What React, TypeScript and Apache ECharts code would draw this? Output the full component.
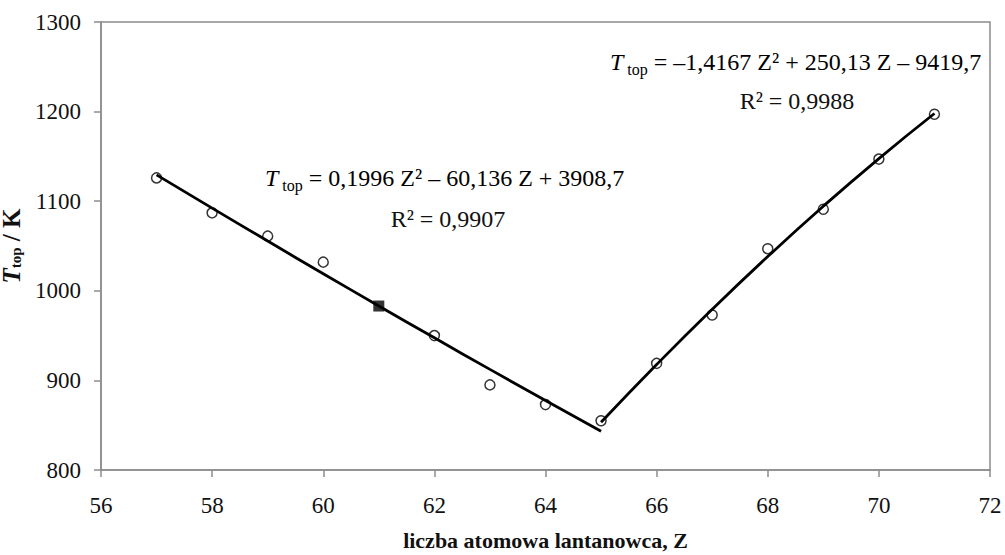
import React, { useEffect, useRef } from "react";
import * as echarts from "echarts";

// Measured points (hollow circles)
const zCircles = [57, 58, 59, 60, 62, 63, 64, 65, 66, 67, 68, 69, 70, 71];
const tCircles = [1126, 1087, 1061, 1032, 950, 895, 873, 855, 919, 973, 1047, 1091, 1147, 1197];
// Filled square point
const zSquare = [61];
const tSquare = [983];
// Trend line, low branch (Z 57–65)
const zFitLow = [57, 58, 59, 60, 61, 62, 63, 64, 65];
const tFitLow = [1129.4, 1092.3, 1055.5, 1019.1, 983.1, 947.5, 912.3, 877.6, 843.2];
// Trend line, high branch (Z 65–71)
const zFitHigh = [65, 66, 67, 68, 69, 70, 71];
const tFitHigh = [853.2, 917.7, 979.4, 1038.3, 1094.4, 1147.6, 1197.9];
// Tick settings
const xTicks = { min: 56, max: 72, interval: 2 };
const yTicks = { min: 800, max: 1300, interval: 100 };

const FONT = "Liberation Serif";

export default function App() {
  const ref = useRef<HTMLDivElement>(null);
  useEffect(() => {
    if (!ref.current) return;
    const chart = echarts.init(ref.current, null, { renderer: "svg" });
    const pair = (xs: number[], ys: number[]) => xs.map((x, i) => [x, ys[i]]);
    const axisGray = "#8c8c8c";
    const rich = {
      t: { fontFamily: FONT, fontSize: 24, fontStyle: "italic", color: "#111", lineHeight: 30 },
      s: { fontFamily: FONT, fontSize: 16, color: "#111", lineHeight: 16, verticalAlign: "bottom" },
      n: { fontFamily: FONT, fontSize: 24, color: "#111", lineHeight: 30 },
    };
    chart.setOption({
      animation: false,
      backgroundColor: "#ffffff",
      textStyle: { fontFamily: FONT },
      grid: {
        left: 101,
        right: 15,
        top: 22,
        bottom: 85,
        show: true,
        borderColor: axisGray,
        borderWidth: 1.5,
        containLabel: false,
        outerBoundsMode: "none",
      },
      xAxis: {
        type: "value",
        min: xTicks.min,
        max: xTicks.max,
        interval: xTicks.interval,
        splitLine: { show: false },
        axisLine: { show: true, lineStyle: { color: axisGray, width: 1.5 } },
        axisTick: { show: true, inside: false, length: 7, lineStyle: { color: axisGray, width: 1.5 } },
        axisLabel: { fontFamily: FONT, fontSize: 23, color: "#111", margin: 24, formatter: (v: number) => String(v) },
        name: "liczba atomowa lantanowca, Z",
        nameLocation: "middle",
        nameGap: 59,
        nameTextStyle: { fontFamily: FONT, fontSize: 22, fontWeight: "bold", color: "#111" },
      },
      yAxis: {
        type: "value",
        min: yTicks.min,
        max: yTicks.max,
        interval: yTicks.interval,
        splitLine: { show: false },
        axisLine: { show: true, lineStyle: { color: axisGray, width: 1.5 } },
        axisTick: { show: true, inside: false, length: 7, lineStyle: { color: axisGray, width: 1.5 } },
        axisLabel: { fontFamily: FONT, fontSize: 23, color: "#111", margin: 20, formatter: (v: number) => String(v) },
        name: "{t|T}{s|top}{n| / K}",
        nameLocation: "middle",
        nameGap: 61,
        nameRotate: 90,
        nameTextStyle: {
          rich: {
            t: { fontFamily: FONT, fontSize: 25, fontStyle: "italic", fontWeight: "bold", color: "#111", lineHeight: 24 },
            s: { fontFamily: FONT, fontSize: 15, fontWeight: "bold", color: "#111", lineHeight: 12, verticalAlign: "bottom" },
            n: { fontFamily: FONT, fontSize: 25, fontWeight: "bold", color: "#111", lineHeight: 24 },
          },
        },
      },
      graphic: [
        {
          type: "text",
          left: 265,
          top: 166,
          style: { text: "{t|T}{s| top}{n| = 0,1996 Z² – 60,136 Z + 3908,7}", rich },
        },
        {
          type: "text",
          x: 448,
          y: 219,
          style: { text: "R² = 0,9907", fontFamily: FONT, fontSize: 24, fill: "#111", align: "center", verticalAlign: "middle" },
        },
        {
          type: "text",
          left: 610,
          top: 50,
          style: { text: "{t|T}{s| top}{n| = –1,4167 Z² + 250,13 Z – 9419,7}", rich },
        },
        {
          type: "text",
          x: 797,
          y: 101,
          style: { text: "R² = 0,9988", fontFamily: FONT, fontSize: 24, fill: "#111", align: "center", verticalAlign: "middle" },
        },
      ],
      series: [
        {
          type: "line",
          data: pair(zFitLow, tFitLow),
          smooth: true,
          showSymbol: false,
          symbol: "none",
          lineStyle: { color: "#000", width: 2.8 },
          z: 2,
        },
        {
          type: "line",
          data: pair(zFitHigh, tFitHigh),
          smooth: true,
          showSymbol: false,
          symbol: "none",
          lineStyle: { color: "#000", width: 2.8 },
          z: 2,
        },
        {
          type: "scatter",
          data: pair(zCircles, tCircles),
          symbol: "circle",
          symbolSize: 10,
          itemStyle: { color: "rgba(255,255,255,0)", borderColor: "#000", borderWidth: 1.5 },
          z: 3,
        },
        {
          type: "scatter",
          data: pair(zSquare, tSquare),
          symbol: "rect",
          symbolSize: 11,
          itemStyle: { color: "#000" },
          z: 3,
        },
      ],
    });
    return () => chart.dispose();
  }, []);
  return (
    <div
      ref={ref}
      style={{ position: "fixed", left: 0, top: 0, width: 1005, height: 555, background: "#fff" }}
    />
  );
}
